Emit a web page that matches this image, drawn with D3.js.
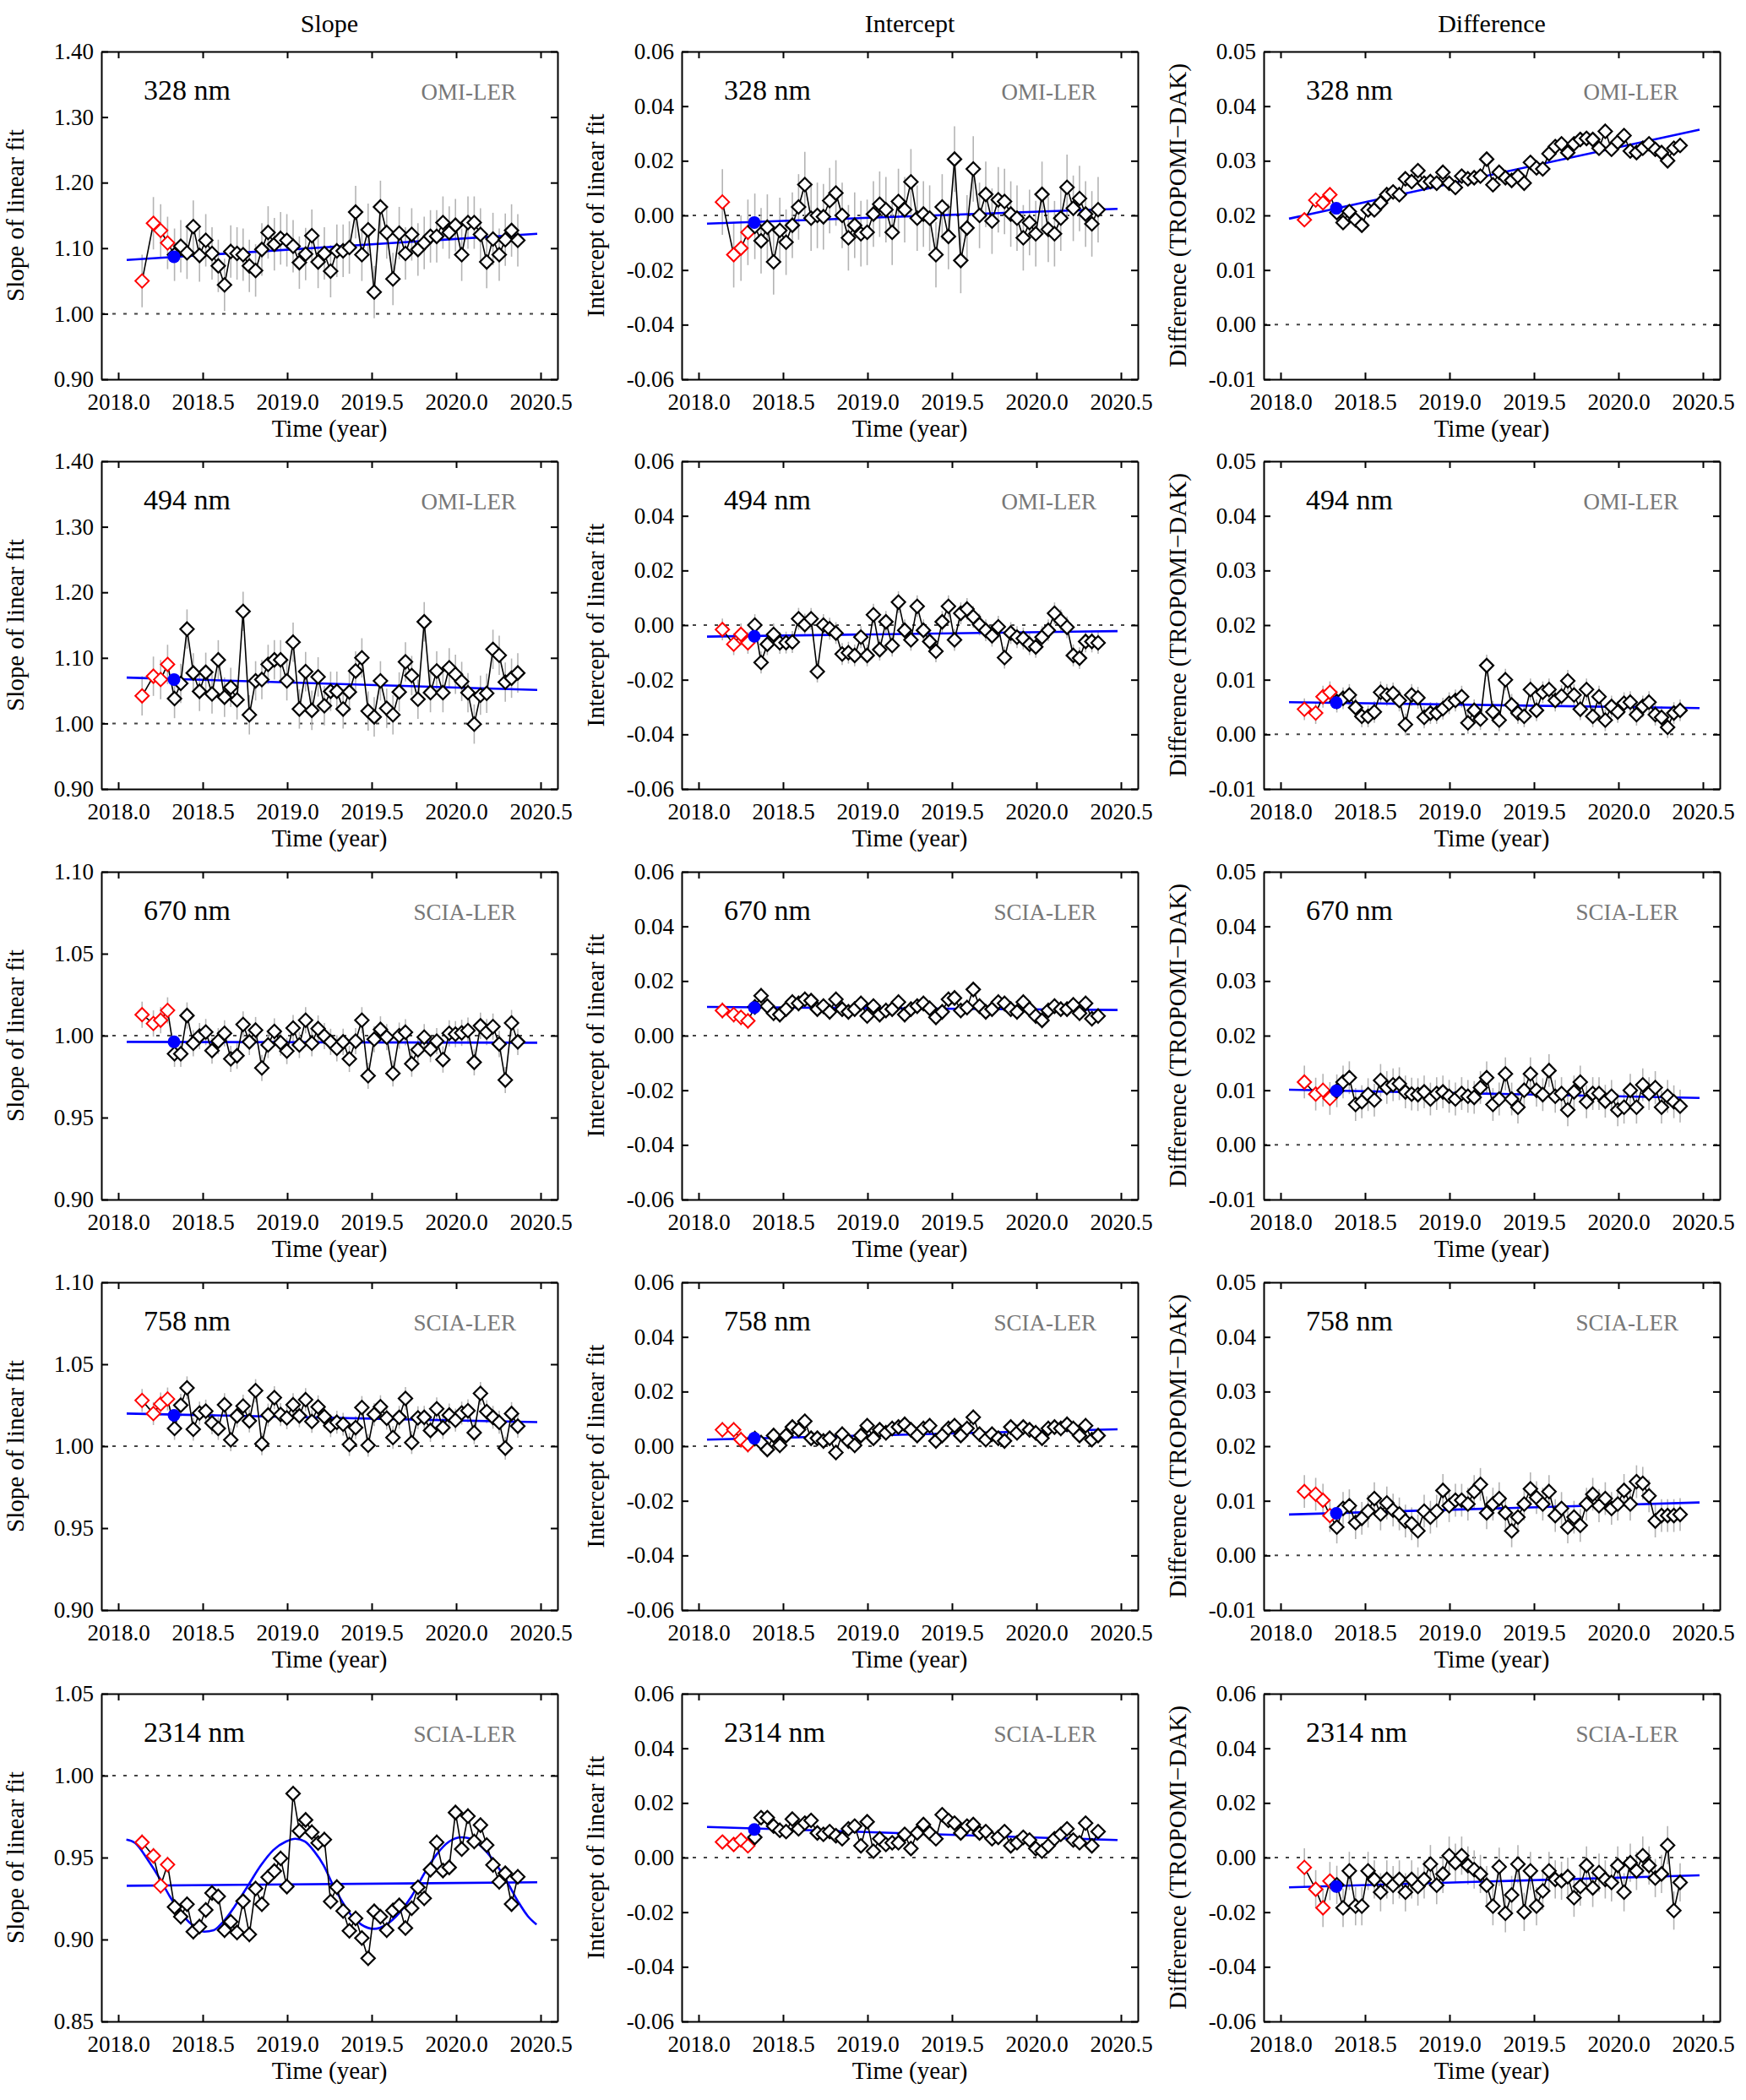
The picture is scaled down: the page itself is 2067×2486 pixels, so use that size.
<!DOCTYPE html>
<html>
<head>
<meta charset="utf-8">
<script src="https://cdn.jsdelivr.net/npm/d3@7"></script>
<style>
  body { margin: 0; background: #fff; }
  svg { display: block; }
  text { font-family: "Liberation Serif", "Times New Roman", serif; }
</style>
</head>
<body>
<div id="here"></div>
<script>
// ---- data ----
var columns = ["Slope", "Intercept", "Difference"];
var yTitles = ["Slope of linear fit", "Intercept of linear fit", "Difference (TROPOMI\u2212DAK)"];
var wavelengths = ["328 nm", "494 nm", "670 nm", "758 nm", "2314 nm"];
var references = ["OMI-LER", "OMI-LER", "SCIA-LER", "SCIA-LER", "SCIA-LER"];

var xTicks = [2018.0, 2018.5, 2019.0, 2019.5, 2020.0, 2020.5];
var xDomain = [2017.9, 2020.6];
var slopeTicksOMI = [0.90, 1.00, 1.10, 1.20, 1.30, 1.40];
var slopeTicksSCIA = [0.90, 0.95, 1.00, 1.05, 1.10];
var slopeTicks2314 = [0.85, 0.90, 0.95, 1.00, 1.05];
var interceptTicks = [-0.06, -0.04, -0.02, 0.00, 0.02, 0.04, 0.06];
var diffTicks = [-0.01, 0.00, 0.01, 0.02, 0.03, 0.04, 0.05];
var diffTicks2314 = [-0.06, -0.04, -0.02, 0.00, 0.02, 0.04, 0.06];

var times = [2018.333, 2018.370, 2018.407, 2018.444, 2018.481, 2018.518, 2018.555, 2018.592,
  2018.629, 2018.666, 2018.703, 2018.739, 2018.776, 2018.813, 2018.850, 2018.887, 2018.924,
  2018.961, 2018.998, 2019.035, 2019.072, 2019.109, 2019.146, 2019.183, 2019.220, 2019.257,
  2019.294, 2019.331, 2019.368, 2019.405, 2019.442, 2019.479, 2019.515, 2019.552, 2019.589,
  2019.626, 2019.663, 2019.700, 2019.737, 2019.774, 2019.811, 2019.848, 2019.885, 2019.922,
  2019.959, 2019.996, 2020.033, 2020.070, 2020.107, 2020.144, 2020.181, 2020.218, 2020.255,
  2020.291, 2020.328, 2020.365];
var redTimes = [2018.141, 2018.208, 2018.251, 2018.292];
var dotTime = 2018.33;
var fitTimes = [2018.05, 2020.48];

// black series, one per panel
var slope328 = [1.090, 1.103, 1.093, 1.133, 1.089, 1.112, 1.092, 1.073, 1.044, 1.095, 1.092, 1.090, 1.073, 1.066, 1.098, 1.124, 1.106, 1.115, 1.112, 1.103, 1.078, 1.091, 1.119, 1.079, 1.092, 1.065, 1.096, 1.096, 1.101, 1.155, 1.090, 1.128, 1.033, 1.163, 1.124, 1.053, 1.123, 1.092, 1.121, 1.098, 1.108, 1.118, 1.118, 1.139, 1.124, 1.135, 1.090, 1.139, 1.139, 1.121, 1.079, 1.114, 1.090, 1.113, 1.127, 1.112];
var intercept328 = [-0.0040, -0.0093, -0.0043, -0.0170, -0.0055, -0.0098, -0.0036, 0.0031, 0.0113, -0.0010, 0.0000, -0.0005, 0.0054, 0.0082, 0.0000, -0.0082, -0.0036, -0.0067, -0.0062, 0.0005, 0.0041, 0.0021, -0.0062, 0.0051, 0.0021, 0.0123, -0.0010, 0.0005, -0.0010, -0.0144, 0.0031, -0.0077, 0.0206, -0.0165, -0.0046, 0.0170, 0.0000, 0.0077, -0.0021, 0.0057, 0.0051, 0.0005, -0.0010, -0.0082, -0.0026, -0.0067, 0.0077, -0.0051, -0.0067, -0.0010, 0.0103, 0.0026, 0.0062, 0.0005, -0.0031, 0.0021];
var difference328 = [0.0205, 0.0187, 0.0207, 0.0192, 0.0182, 0.0210, 0.0210, 0.0223, 0.0238, 0.0243, 0.0238, 0.0267, 0.0262, 0.0282, 0.0259, 0.0262, 0.0259, 0.0279, 0.0259, 0.0251, 0.0272, 0.0267, 0.0269, 0.0272, 0.0303, 0.0256, 0.0279, 0.0269, 0.0264, 0.0272, 0.0259, 0.0297, 0.0287, 0.0285, 0.0313, 0.0326, 0.0331, 0.0315, 0.0331, 0.0339, 0.0341, 0.0339, 0.0323, 0.0354, 0.0321, 0.0334, 0.0346, 0.0318, 0.0315, 0.0323, 0.0331, 0.0321, 0.0315, 0.0300, 0.0323, 0.0328];

var slope494 = [1.038, 1.061, 1.144, 1.077, 1.049, 1.078, 1.045, 1.097, 1.040, 1.055, 1.036, 1.171, 1.013, 1.065, 1.067, 1.090, 1.097, 1.097, 1.065, 1.124, 1.022, 1.079, 1.020, 1.071, 1.027, 1.049, 1.049, 1.022, 1.048, 1.080, 1.100, 1.019, 1.010, 1.065, 1.023, 1.013, 1.048, 1.094, 1.073, 1.037, 1.155, 1.047, 1.080, 1.047, 1.085, 1.075, 1.064, 1.047, 0.999, 1.043, 1.046, 1.113, 1.104, 1.063, 1.069, 1.077];
var intercept494 = [0.0000, -0.0137, -0.0070, -0.0034, -0.0065, -0.0064, -0.0062, 0.0023, 0.0002, 0.0023, -0.0170, 0.0000, -0.0013, -0.0029, -0.0106, -0.0101, -0.0111, -0.0044, -0.0111, 0.0038, -0.0090, 0.0012, -0.0075, 0.0084, -0.0019, -0.0054, 0.0069, -0.0019, -0.0060, -0.0096, 0.0012, 0.0069, -0.0054, 0.0043, 0.0059, 0.0030, 0.0002, -0.0019, -0.0039, -0.0006, -0.0119, -0.0029, -0.0044, -0.0049, -0.0070, -0.0080, -0.0044, -0.0019, 0.0043, 0.0017, -0.0008, -0.0111, -0.0121, -0.0060, -0.0060, -0.0065];
var difference494 = [0.0060, 0.0066, 0.0072, 0.0049, 0.0033, 0.0033, 0.0041, 0.0077, 0.0072, 0.0075, 0.0062, 0.0018, 0.0072, 0.0067, 0.0031, 0.0039, 0.0039, 0.0047, 0.0057, 0.0062, 0.0069, 0.0021, 0.0044, 0.0028, 0.0126, 0.0041, 0.0026, 0.0100, 0.0054, 0.0039, 0.0033, 0.0082, 0.0044, 0.0077, 0.0082, 0.0062, 0.0070, 0.0098, 0.0072, 0.0046, 0.0082, 0.0033, 0.0069, 0.0026, 0.0051, 0.0041, 0.0057, 0.0059, 0.0036, 0.0051, 0.0059, 0.0036, 0.0031, 0.0013, 0.0039, 0.0044];

var slope670 = [0.9889, 0.9889, 1.0123, 0.9954, 0.9997, 1.0022, 0.9909, 0.9966, 1.0014, 0.9858, 0.9877, 1.0068, 0.9962, 1.0034, 0.9803, 0.9943, 1.0026, 0.9957, 0.9906, 1.0046, 0.9943, 1.0094, 0.9954, 1.0043, 0.9997, 0.9962, 0.9923, 0.9962, 0.9858, 0.9966, 1.0094, 0.9755, 0.9978, 1.0038, 0.9991, 0.9769, 1.0000, 1.0021, 0.9829, 0.9914, 0.9991, 0.9918, 0.9966, 0.9854, 1.0014, 1.0009, 1.0017, 1.0031, 0.9837, 1.0060, 1.0022, 1.0055, 0.9949, 0.9729, 1.0077, 0.9962];
var intercept670 = [0.0105, 0.0146, 0.0108, 0.0082, 0.0077, 0.0097, 0.0123, 0.0118, 0.0133, 0.0128, 0.0097, 0.0108, 0.0087, 0.0133, 0.0097, 0.0087, 0.0097, 0.0118, 0.0072, 0.0108, 0.0077, 0.0092, 0.0097, 0.0123, 0.0077, 0.0097, 0.0108, 0.0118, 0.0100, 0.0067, 0.0087, 0.0133, 0.0138, 0.0092, 0.0103, 0.0169, 0.0108, 0.0087, 0.0097, 0.0123, 0.0118, 0.0097, 0.0087, 0.0123, 0.0097, 0.0072, 0.0056, 0.0092, 0.0108, 0.0097, 0.0097, 0.0113, 0.0082, 0.0118, 0.0062, 0.0072];
var difference670 = [0.0099, 0.0115, 0.0123, 0.0074, 0.0079, 0.0092, 0.0082, 0.0118, 0.0105, 0.0110, 0.0112, 0.0097, 0.0093, 0.0092, 0.0097, 0.0084, 0.0094, 0.0097, 0.0089, 0.0084, 0.0094, 0.0089, 0.0087, 0.0105, 0.0123, 0.0074, 0.0084, 0.0130, 0.0084, 0.0069, 0.0100, 0.0130, 0.0100, 0.0092, 0.0136, 0.0089, 0.0094, 0.0064, 0.0097, 0.0115, 0.0079, 0.0094, 0.0094, 0.0080, 0.0089, 0.0064, 0.0069, 0.0100, 0.0069, 0.0110, 0.0094, 0.0105, 0.0069, 0.0089, 0.0079, 0.0071];

var slope758 = [1.0108, 1.0250, 1.0356, 1.0103, 1.0202, 1.0214, 1.0142, 1.0108, 1.0253, 1.0039, 1.0185, 1.0245, 1.0154, 1.0339, 1.0014, 1.0190, 1.0296, 1.0193, 1.0173, 1.0253, 1.0185, 1.0284, 1.0151, 1.0240, 1.0180, 1.0125, 1.0146, 1.0134, 1.0010, 1.0113, 1.0236, 1.0005, 1.0193, 1.0241, 1.0171, 1.0053, 1.0176, 1.0291, 1.0022, 1.0173, 1.0176, 1.0096, 1.0228, 1.0113, 1.0190, 1.0159, 1.0202, 1.0216, 1.0082, 1.0322, 1.0211, 1.0176, 1.0146, 0.9988, 1.0199, 1.0122];
var intercept758 = [0.0028, 0.0013, -0.0012, 0.0039, 0.0003, 0.0039, 0.0070, 0.0060, 0.0091, 0.0029, 0.0029, 0.0019, 0.0029, -0.0023, 0.0044, 0.0019, 0.0003, 0.0039, 0.0075, 0.0029, 0.0060, 0.0049, 0.0065, 0.0070, 0.0080, 0.0060, 0.0039, 0.0065, 0.0075, 0.0019, 0.0039, 0.0065, 0.0075, 0.0039, 0.0065, 0.0106, 0.0044, 0.0024, 0.0044, 0.0029, 0.0019, 0.0070, 0.0049, 0.0070, 0.0060, 0.0049, 0.0029, 0.0065, 0.0070, 0.0065, 0.0080, 0.0065, 0.0039, 0.0075, 0.0024, 0.0039];
var difference758 = [0.0052, 0.0086, 0.0091, 0.0060, 0.0068, 0.0081, 0.0104, 0.0076, 0.0096, 0.0083, 0.0076, 0.0063, 0.0058, 0.0045, 0.0081, 0.0070, 0.0081, 0.0119, 0.0091, 0.0101, 0.0101, 0.0094, 0.0117, 0.0130, 0.0078, 0.0094, 0.0104, 0.0078, 0.0045, 0.0070, 0.0094, 0.0122, 0.0106, 0.0094, 0.0117, 0.0073, 0.0086, 0.0052, 0.0070, 0.0055, 0.0094, 0.0112, 0.0091, 0.0104, 0.0086, 0.0094, 0.0119, 0.0094, 0.0135, 0.0132, 0.0109, 0.0063, 0.0073, 0.0073, 0.0073, 0.0075];

var slope2314 = [0.9198, 0.9139, 0.9215, 0.9048, 0.9079, 0.9180, 0.9284, 0.9263, 0.9057, 0.9108, 0.9043, 0.9234, 0.9031, 0.9311, 0.9215, 0.9380, 0.9418, 0.9495, 0.9323, 0.9890, 0.9662, 0.9730, 0.9655, 0.9589, 0.9610, 0.9232, 0.9320, 0.9174, 0.9053, 0.9129, 0.9009, 0.8885, 0.9172, 0.9139, 0.9057, 0.9177, 0.9208, 0.9070, 0.9191, 0.9318, 0.9251, 0.9426, 0.9593, 0.9421, 0.9440, 0.9775, 0.9552, 0.9753, 0.9598, 0.9698, 0.9576, 0.9455, 0.9352, 0.9404, 0.9216, 0.9383];
var intercept2314 = [0.0074, 0.0146, 0.0146, 0.0115, 0.0100, 0.0095, 0.0141, 0.0105, 0.0126, 0.0136, 0.0090, 0.0085, 0.0095, 0.0080, 0.0069, 0.0105, 0.0115, 0.0043, 0.0131, 0.0023, 0.0069, 0.0048, 0.0054, 0.0054, 0.0085, 0.0033, 0.0090, 0.0121, 0.0090, 0.0069, 0.0157, 0.0136, 0.0126, 0.0090, 0.0115, 0.0121, 0.0090, 0.0095, 0.0069, 0.0074, 0.0095, 0.0043, 0.0054, 0.0074, 0.0064, 0.0033, 0.0023, 0.0043, 0.0069, 0.0085, 0.0105, 0.0064, 0.0054, 0.0126, 0.0043, 0.0095];
var difference2314 = [-0.0100, -0.0184, -0.0049, -0.0178, -0.0178, -0.0049, -0.0080, -0.0127, -0.0080, -0.0101, -0.0080, -0.0127, -0.0080, -0.0106, -0.0080, -0.0024, -0.0101, -0.0060, 0.0007, -0.0019, 0.0007, -0.0029, -0.0044, -0.0060, -0.0101, -0.0178, -0.0034, -0.0204, -0.0137, -0.0024, -0.0199, -0.0049, -0.0178, -0.0122, -0.0049, -0.0080, -0.0085, -0.0070, -0.0147, -0.0106, -0.0029, -0.0111, -0.0055, -0.0080, -0.0091, -0.0029, -0.0127, -0.0019, -0.0049, 0.0007, -0.0029, -0.0075, -0.0060, 0.0045, -0.0194, -0.0091];

// red (early) points per row: [slope, intercept, difference]
var red328 = [[1.050, 1.138, 1.127, 1.108], [0.0049, -0.0144, -0.0120, -0.0062], [0.0192, 0.0228, 0.0223, 0.0238]];
var red494 = [[1.042, 1.072, 1.067, 1.090], [-0.0016, -0.0070, -0.0034, -0.0065], [0.0046, 0.0039, 0.0069, 0.0077]];
var red670 = [[1.0128, 1.0074, 1.0094, 1.0154], [0.0092, 0.0077, 0.0067, 0.0054], [0.0115, 0.0093, 0.0100, 0.0085]];
var red758 = [[1.0279, 1.0199, 1.0257, 1.0288], [0.0060, 0.0060, 0.0024, 0.0006], [0.0117, 0.0112, 0.0101, 0.0073]];
var red2314 = [[0.9593, 0.9510, 0.9328, 0.9457], [0.0057, 0.0048, 0.0064, 0.0043], [-0.0036, -0.0116, -0.0184, -0.0086]];

// blue dot and linear fit per row: [slope, intercept, difference]
var blueDots = [[1.087, -0.0026, 0.0213], [1.067, -0.0041, 0.0058], [0.9962, 0.0103, 0.0099], [1.0188, 0.0029, 0.0077], [null, 0.0103, -0.0106]];
var fitStart = [[1.082, -0.0030, 0.0194], [1.070, -0.0042, 0.0059], [0.9962, 0.0105, 0.0101], [1.0199, 0.0024, 0.0075], [0.9328, 0.0112, -0.0109]];
var fitEnd = [[1.122, 0.0024, 0.0357], [1.051, -0.0022, 0.0048], [0.9957, 0.0094, 0.0086], [1.0147, 0.0062, 0.0097], [0.9349, 0.0064, -0.0065]];
// typical error bar half-width per row
var errorBars = [[0.040, 0.012, 0.0012], [0.030, 0.004, 0.002], [0.008, 0.003, 0.003], [0.007, 0.003, 0.003], [0.005, 0.002, 0.007]];

// seasonal fit curve, 2314 nm slope
var seasonTimes = [2018.048, 2018.100, 2018.175, 2018.249, 2018.305, 2018.361, 2018.435, 2018.509, 2018.565, 2018.621, 2018.695, 2018.770, 2018.844, 2018.918, 2018.993, 2019.048, 2019.104, 2019.160, 2019.216, 2019.271, 2019.327, 2019.383, 2019.439, 2019.513, 2019.587, 2019.662, 2019.736, 2019.810, 2019.885, 2019.959, 2020.033, 2020.089, 2020.145, 2020.219, 2020.294, 2020.368, 2020.424, 2020.476];
var seasonValues = [0.9610, 0.9589, 0.9486, 0.9366, 0.9263, 0.9177, 0.9091, 0.9048, 0.9057, 0.9108, 0.9211, 0.9332, 0.9452, 0.9546, 0.9598, 0.9615, 0.9598, 0.9538, 0.9452, 0.9332, 0.9229, 0.9143, 0.9091, 0.9065, 0.9091, 0.9160, 0.9263, 0.9400, 0.9520, 0.9598, 0.9624, 0.9615, 0.9572, 0.9486, 0.9366, 0.9229, 0.9143, 0.9091];

// ---- layout ----
var W = 2067, H = 2486;
var colLeft = [120, 807, 1496], rowTop = [61, 546, 1032, 1518, 2005];
var pw = 540, ph = 388;

var series = [
  [slope328, intercept328, difference328],
  [slope494, intercept494, difference494],
  [slope670, intercept670, difference670],
  [slope758, intercept758, difference758],
  [slope2314, intercept2314, difference2314]
];
var reds = [red328, red494, red670, red758, red2314];
var tickSets = [
  [slopeTicksOMI, interceptTicks, diffTicks],
  [slopeTicksOMI, interceptTicks, diffTicks],
  [slopeTicksSCIA, interceptTicks, diffTicks],
  [slopeTicksSCIA, interceptTicks, diffTicks],
  [slopeTicks2314, interceptTicks, diffTicks2314]
];

var svg = d3.select("#here").append("svg")
  .attr("width", W)
  .attr("height", H)
  .style("background", "#fff");

var x = d3.scaleLinear().domain(xDomain).range([0, pw]);

columns.forEach(function(c, ci) {
  svg.append("text")
    .attr("x", colLeft[ci] + pw / 2)
    .attr("y", 38)
    .attr("text-anchor", "middle")
    .style("font-size", "30px")
    .text(c);
});

function diamond(s) {
  return "M0," + (-s) + "L" + s + ",0L0," + s + "L" + (-s) + ",0Z";
}

series.forEach(function(rowSeries, ri) {
  rowSeries.forEach(function(vals, ci) {
    var ticks = tickSets[ri][ci];
    var y = d3.scaleLinear().domain(d3.extent(ticks)).range([ph, 0]);
    var g = svg.append("g")
      .attr("transform", "translate(" + colLeft[ci] + "," + rowTop[ri] + ")");

    var redPts = reds[ri][ci].map(function(v, i) { return {t: redTimes[i], v: v}; });
    var blackPts = vals.map(function(v, i) { return {t: times[i], v: v}; });
    var allPts = redPts.concat(blackPts);
    var err = errorBars[ri][ci];

    // reference line
    var refVal = ci === 0 ? 1.0 : 0.0;
    g.append("line")
      .attr("x1", 0).attr("x2", pw)
      .attr("y1", y(refVal)).attr("y2", y(refVal))
      .attr("stroke", "#444")
      .attr("stroke-width", 2)
      .attr("stroke-dasharray", "4,9");

    // error bars
    g.selectAll(".err").data(allPts).enter().append("line")
      .attr("x1", function(d) { return x(d.t); })
      .attr("x2", function(d) { return x(d.t); })
      .attr("y1", function(d) { return y(d.v - err); })
      .attr("y2", function(d) { return y(d.v + err); })
      .attr("stroke", "#b4b4b4")
      .attr("stroke-width", 1.6);

    // linear fit
    var line = d3.line().x(function(d) { return x(d.t); }).y(function(d) { return y(d.v); });
    g.append("path")
      .datum([{t: fitTimes[0], v: fitStart[ri][ci]}, {t: fitTimes[1], v: fitEnd[ri][ci]}])
      .attr("d", line)
      .attr("fill", "none")
      .attr("stroke", "#0000ff")
      .attr("stroke-width", 2.6);

    if (ri === 4 && ci === 0) {
      g.append("path")
        .datum(seasonTimes.map(function(t, i) { return {t: t, v: seasonValues[i]}; }))
        .attr("d", line.curve(d3.curveMonotoneX))
        .attr("fill", "none")
        .attr("stroke", "#0000ff")
        .attr("stroke-width", 2.6);
      line.curve(d3.curveLinear);
    }

    // connecting line
    g.append("path")
      .datum(allPts)
      .attr("d", line)
      .attr("fill", "none")
      .attr("stroke", "#000")
      .attr("stroke-width", 1.6);

    g.selectAll(".red").data(redPts).enter().append("path")
      .attr("d", diamond(8))
      .attr("transform", function(d) { return "translate(" + x(d.t) + "," + y(d.v) + ")"; })
      .attr("fill", "#fff")
      .attr("stroke", "#ff0000")
      .attr("stroke-width", 2);

    g.selectAll(".blk").data(blackPts).enter().append("path")
      .attr("d", diamond(8))
      .attr("transform", function(d) { return "translate(" + x(d.t) + "," + y(d.v) + ")"; })
      .attr("fill", "#fff")
      .attr("stroke", "#000")
      .attr("stroke-width", 2.2);

    var dot = blueDots[ri][ci];
    if (dot !== null) {
      g.append("circle")
        .attr("cx", x(dotTime))
        .attr("cy", y(dot))
        .attr("r", 7.5)
        .attr("fill", "#0000ff");
    }

    // axes with inward ticks on all four sides
    function styleAxis(a) {
      a.selectAll("path").attr("stroke-width", 2);
      a.selectAll("line").attr("stroke-width", 2);
      a.attr("font-family", "Liberation Serif, Times New Roman, serif").attr("font-size", 27);
    }
    var fmt = function(d) { return d.toFixed(2); };
    g.append("g").call(d3.axisLeft(y).tickValues(ticks).tickFormat(fmt)
      .tickSizeInner(-8).tickSizeOuter(0).tickPadding(9)).call(styleAxis);
    g.append("g").attr("transform", "translate(" + pw + ",0)")
      .call(d3.axisRight(y).tickValues(ticks).tickFormat("")
      .tickSizeInner(-8).tickSizeOuter(0)).call(styleAxis);
    g.append("g").attr("transform", "translate(0," + ph + ")")
      .call(d3.axisBottom(x).tickValues(xTicks).tickFormat(function(d) { return d.toFixed(1); })
      .tickSizeInner(-8).tickSizeOuter(0).tickPadding(17)).call(styleAxis);
    g.append("g")
      .call(d3.axisTop(x).tickValues(xTicks).tickFormat("")
      .tickSizeInner(-8).tickSizeOuter(0)).call(styleAxis);

    // labels
    g.append("text")
      .attr("x", 50).attr("y", 57)
      .style("font-size", "34px")
      .text(wavelengths[ri]);
    g.append("text")
      .attr("x", 491).attr("y", 57)
      .attr("text-anchor", "end")
      .attr("fill", "#777")
      .style("font-size", "27px")
      .text(references[ri]);
    g.append("text")
      .attr("transform", "translate(-92," + (ph / 2) + ") rotate(-90)")
      .attr("text-anchor", "middle")
      .style("font-size", "29px")
      .text(yTitles[ci]);
    g.append("text")
      .attr("x", pw / 2).attr("y", ph + 68)
      .attr("text-anchor", "middle")
      .style("font-size", "29px")
      .text("Time (year)");
  });
});
</script>
</body>
</html>
